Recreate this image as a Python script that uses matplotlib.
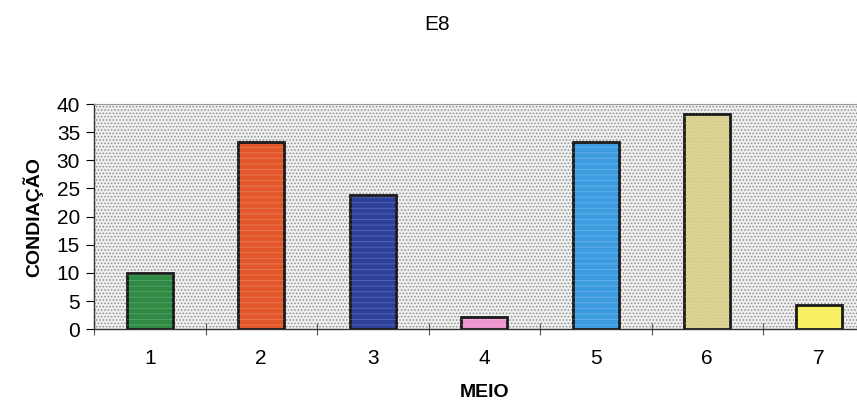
import numpy as np
import matplotlib.pyplot as plt
from matplotlib.patches import Rectangle
from matplotlib.ticker import FixedLocator

plt.rcParams['font.family'] = ['Liberation Sans', 'DejaVu Sans']
plt.rcParams['hatch.linewidth'] = 0.7

# ---------- data ----------
meio = ['1', '2', '3', '4', '5', '6', '7']
condiacao = [10, 33.3, 23.8, 2.2, 33.2, 38.3, 4.4]
bar_colors = ['#2f8a44', '#e2582c', '#2c409c', '#ec94cc', '#3d9ce0', '#d9d08e', '#f6ef62']

fig = plt.figure(figsize=(8.57, 4.05), dpi=100)
# plot area runs slightly past the right edge of the figure
ax = fig.add_axes([94 / 857, 75.7 / 405, 780.5 / 857, 225.3 / 405])

# stippled grey background
ax.set_facecolor('#eeeeee')
ax.add_patch(Rectangle((0, 0), 1, 1, transform=ax.transAxes, facecolor='none',
                       edgecolor='#8f8f8f', hatch='.....', linewidth=0, zorder=0))

x = np.arange(1, len(meio) + 1)
bars = ax.bar(x, condiacao, width=0.41, color=bar_colors, edgecolor='#1a1a1a',
              linewidth=2, zorder=3)
# faint streaks / speckle on the fills
for b, h in zip(bars, ['---', '---', '---', '---', '---', '.....', None]):
    if h:
        ax.bar(b.get_x() + b.get_width() / 2, b.get_height(), width=b.get_width(),
               color='none', edgecolor=(1, 1, 1, 0.18), hatch=h, linewidth=0, zorder=4)

ax.set_xlim(0.5, len(meio) + 0.5)
ax.set_ylim(0, 40)
ax.set_yticks(np.arange(0, 41, 5))
ax.set_xticks(x)
ax.set_xticklabels(meio)
ax.xaxis.set_minor_locator(FixedLocator(np.arange(0.5, len(meio) + 1, 1.0)))

ax.tick_params(axis='x', which='major', length=0, pad=14, labelsize=15)
ax.tick_params(axis='x', which='minor', direction='inout', length=8, width=0.8, color='#555555')
ax.tick_params(axis='y', direction='out', length=6, width=0.8, pad=4, labelsize=15)

for side in ('left', 'bottom'):
    ax.spines[side].set_color('#333333')
    ax.spines[side].set_linewidth(1.0)
ax.spines['top'].set_color('#9a9a9a')
ax.spines['top'].set_linestyle((0, (2, 1)))
ax.spines['top'].set_linewidth(0.8)
ax.spines['right'].set_visible(False)

ax.set_xlabel('MEIO', fontsize=14, fontweight='bold', labelpad=12)
ax.set_ylabel('CONDIAÇÃO', fontsize=14, fontweight='bold', labelpad=10)

fig.text(437 / 857, 1 - 25 / 405, 'E8', ha='center', va='center', fontsize=15)

fig.savefig('out.png', dpi=100)
